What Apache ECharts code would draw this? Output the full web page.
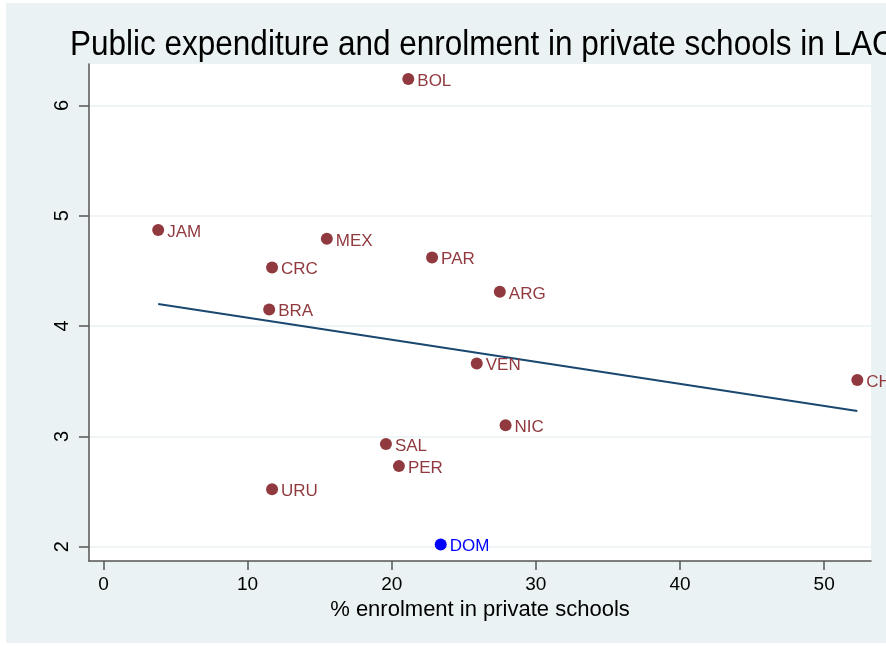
<!DOCTYPE html>
<html lang="en">
<head>
    <meta charset="UTF-8">
    <title>Public expenditure and enrolment in private schools in LAC</title>
    <style>
        html, body { margin: 0; padding: 0; background: #ffffff; }
        #chart-container { width: 886px; height: 646px; }
    </style>
</head>
<body>
    <div id="chart-container"></div>
    <script src="https://cdn.jsdelivr.net/npm/echarts@6/dist/echarts.min.js"></script>
    <script>
        // country codes and values
        const countries = ['BOL', 'JAM', 'MEX', 'CRC', 'PAR', 'ARG', 'BRA', 'VEN', 'CHI', 'NIC', 'SAL', 'PER', 'URU'];
        const privateShare = [21.15, 3.8, 15.5, 11.7, 22.8, 27.5, 11.5, 25.9, 52.3, 27.9, 19.6, 20.5, 11.7];
        const publicSpend = [6.24, 4.87, 4.79, 4.53, 4.62, 4.31, 4.15, 3.66, 3.51, 3.10, 2.93, 2.73, 2.52];

        // the outlier drawn in blue
        const outlierName = ['DOM'];
        const outlierShare = [23.4];
        const outlierSpend = [2.02];

        // fitted line end points
        const fitShare = [3.8, 52.3];
        const fitSpend = [4.20, 3.23];

        const xTicks = [0, 10, 20, 30, 40, 50];
        const yTicks = [2, 3, 4, 5, 6];

        const maroon = '#903a3f';
        const bgGray = '#eaf2f3';
        const font = 'Liberation Sans, Arial, sans-serif';

        var dom = document.getElementById('chart-container');
        var myChart = echarts.init(dom, null, { renderer: 'canvas' });

        const mainData = countries.map(function (c, i) {
            return { name: c, value: [privateShare[i], publicSpend[i]] };
        });
        const outlierData = outlierName.map(function (c, i) {
            return { name: c, value: [outlierShare[i], outlierSpend[i]] };
        });
        const fitData = fitShare.map(function (x, i) { return [x, fitSpend[i]]; });

        const labelStyle = function (color) {
            return {
                show: true,
                position: 'right',
                distance: 3,
                offset: [0, 2],
                formatter: '{b}',
                color: color,
                fontFamily: font,
                fontSize: 17
            };
        };

        var option = {
            backgroundColor: '#ffffff',
            animation: false,
            graphic: [
                {
                    type: 'rect',
                    z: -10,
                    silent: true,
                    shape: { x: 6, y: 3, width: 880, height: 640 },
                    style: { fill: bgGray }
                },
                {
                    // title, a bit condensed like the original
                    type: 'text',
                    x: 70,
                    y: 63,
                    scaleX: 0.9,
                    silent: true,
                    style: {
                        text: 'Public expenditure and enrolment in private schools in LAC',
                        fontFamily: font,
                        fontSize: 35,
                        fill: '#000000',
                        textVerticalAlign: 'bottom'
                    }
                }
            ],
            grid: {
                left: 89,
                right: 15,
                top: 64,
                bottom: 85,
                show: true,
                backgroundColor: '#ffffff',
                borderWidth: 0
            },
            xAxis: {
                type: 'value',
                min: -1,
                max: 53.25,
                interval: 10,
                name: '% enrolment in private schools',
                nameLocation: 'middle',
                nameGap: 38,
                nameTextStyle: {
                    fontFamily: font,
                    fontSize: 22,
                    color: '#000000'
                },
                axisLine: { onZero: false, lineStyle: { color: '#555555', width: 1.5 } },
                axisTick: {
                    length: 9,
                    lineStyle: { color: '#555555', width: 1.5 },
                    customValues: xTicks
                },
                axisLabel: {
                    fontFamily: font,
                    fontSize: 19,
                    color: '#000000',
                    margin: 14,
                    customValues: xTicks
                },
                splitLine: { show: false }
            },
            yAxis: {
                type: 'value',
                min: 1.87,
                max: 6.375,
                axisLine: { show: true, onZero: false, lineStyle: { color: '#555555', width: 1.5 } },
                axisTick: {
                    show: true,
                    length: 10,
                    lineStyle: { color: '#555555', width: 1.5 },
                    customValues: yTicks
                },
                axisLabel: {
                    fontFamily: font,
                    fontSize: 20,
                    color: '#000000',
                    rotate: 90,
                    margin: 17,
                    customValues: yTicks
                },
                splitLine: {
                    show: true,
                    lineStyle: { color: bgGray, width: 1.5 }
                }
            },
            series: [
                {
                    type: 'scatter',
                    symbolSize: 12,
                    itemStyle: { color: maroon, opacity: 1 },
                    label: labelStyle(maroon),
                    data: mainData,
                    z: 3
                },
                {
                    type: 'scatter',
                    symbolSize: 12,
                    itemStyle: { color: '#0000ff', opacity: 1 },
                    label: labelStyle('#0000ff'),
                    data: outlierData,
                    z: 3
                },
                {
                    type: 'line',
                    data: fitData,
                    symbol: 'none',
                    lineStyle: { color: '#1a476f', width: 2 },
                    z: 2
                }
            ]
        };

        myChart.setOption(option);
        window.addEventListener('resize', myChart.resize);
    </script>
</body>
</html>
